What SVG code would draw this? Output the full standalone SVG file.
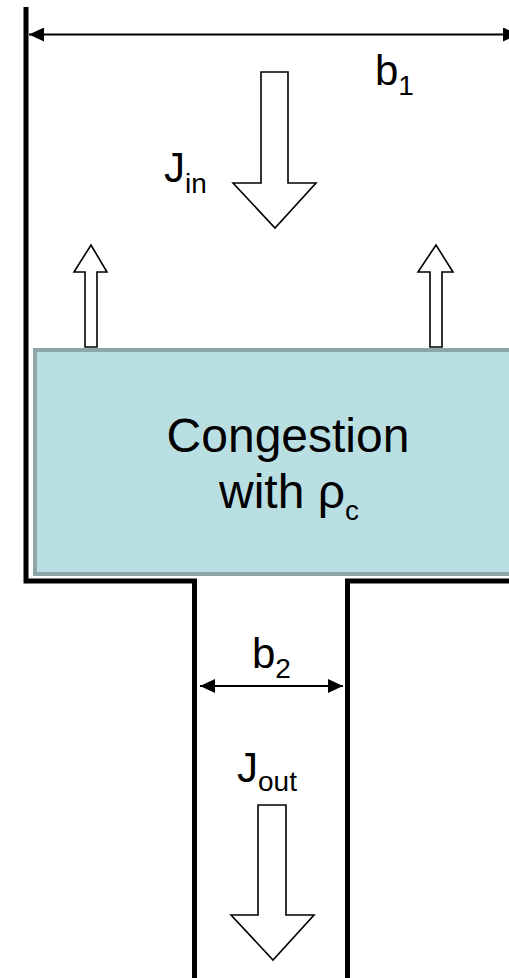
<svg xmlns="http://www.w3.org/2000/svg" width="509" height="978" viewBox="0 0 509 978">
<style>
.wall{fill:none;stroke:#000;stroke-width:5;stroke-linejoin:miter}
.dim{fill:none;stroke:#000;stroke-width:2}
.blk{fill:#fff;stroke:#000;stroke-width:1.6;stroke-linejoin:miter}
.box{fill:#BADFE3;stroke:#8DA6A8;stroke-width:4}
text{font-family:"Liberation Sans",Arial,sans-serif;fill:#000}
.lbl{font-size:42px}
.sub{font-size:28px}
.big{font-size:48px}
</style>
<defs>
<marker id="ah" viewBox="0 0 15 14" refX="15" refY="7" markerWidth="15" markerHeight="14" markerUnits="userSpaceOnUse" orient="auto-start-reverse">
<path d="M0,0 L15,7 L0,14 Z" fill="#000"/>
</marker>
</defs>
<g id="walls">
<path class="wall" d="M26,7 V581 H194.5 V978"/>
<path class="wall" d="M347.5,978 V581 H512"/>
</g>
<g id="congestion">
<rect class="box" x="35" y="350" width="490" height="224"/>
<text class="big" x="288" y="452" text-anchor="middle">Congestion</text>
<text class="big" x="289" y="508" text-anchor="middle">with ρ<tspan class="sub" dy="12">c</tspan></text>
</g>
<g id="connectors">
<line class="dim" x1="29" y1="34.5" x2="518" y2="34.5" marker-start="url(#ah)" marker-end="url(#ah)"/>
<line class="dim" x1="200" y1="686" x2="343" y2="686" marker-start="url(#ah)" marker-end="url(#ah)"/>
</g>
<g id="jin-arrow">
<path class="blk" d="M261,72 H288 V183 H316 L275,228 L233,183 H261 Z"/>
</g>
<g id="up-arrow-left">
<path class="blk" d="M85,347 V272 H74 L91,245 L107,272 H97 V347 Z"/>
</g>
<g id="up-arrow-right">
<path class="blk" d="M430,347 V272 H418 L436,245 L453,272 H442 V347 Z"/>
</g>
<g id="jout-arrow">
<path class="blk" d="M258,805 H286 V915 H314 L273,960 L231,915 H258 Z"/>
</g>
<g id="labels">
<text class="lbl" x="375" y="85">b<tspan class="sub" dy="10">1</tspan></text>
<text class="lbl" x="164" y="182">J<tspan class="sub" dy="11">in</tspan></text>
<text class="lbl" x="252" y="668">b<tspan class="sub" dy="10">2</tspan></text>
<text class="lbl" x="237" y="782">J<tspan class="sub" dy="9">out</tspan></text>
</g>
</svg>
